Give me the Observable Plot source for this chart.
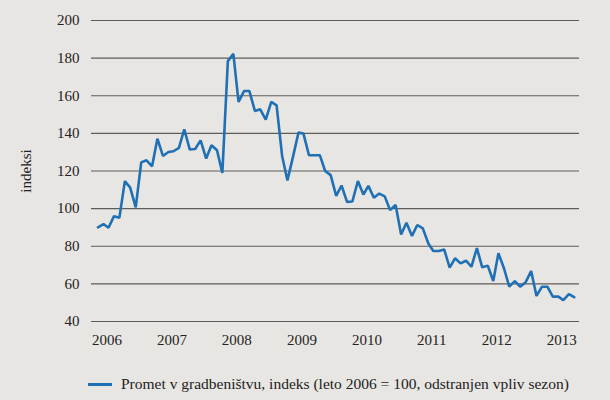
<!DOCTYPE html>
<html>
<head>
<meta charset="utf-8">
<script src="https://cdn.jsdelivr.net/npm/d3@7"></script>
<script src="https://cdn.jsdelivr.net/npm/@observablehq/plot@0.6"></script>
<style>
  html, body { margin: 0; padding: 0; background: #e8e6e2; }
  body { width: 610px; height: 400px; overflow: hidden; font-family: "Liberation Serif", "Times New Roman", serif; color: #222; }
  #legend { position: absolute; left: 88px; top: 375px; display: flex; align-items: center; font-size: 15.5px; font-family: "Liberation Serif", "Times New Roman", serif; color: #222; white-space: nowrap; }
  #legend .sw { width: 24px; height: 3px; background: #1f70b5; margin-right: 9px; }
</style>
</head>
<body>
<div id="chart"></div>
<div id="legend"><span class="sw"></span><span id="legendText"></span></div>
<script>
// Monthly index, Jan 2006 onwards (leto 2006 = 100, seasonally adjusted)
const startYear = 2006;
const values = [
  90.0, 91.8, 89.8, 96.0, 95.1, 114.6, 111.2, 100.7, 124.6, 125.7, 122.5, 137.2,
  128.0, 130.1, 130.5, 132.3, 142.2, 131.4, 131.7, 136.3, 126.6, 133.7, 131.0, 119.0,
  178.4, 182.3, 156.7, 162.5, 162.5, 151.9, 152.8, 147.3, 156.7, 154.9, 128.0, 115.0,
  127.5, 140.4, 139.9, 128.4, 128.4, 128.4, 120.0, 117.8, 106.8, 112.3, 103.6, 103.8,
  114.7, 107.5, 112.1, 105.8, 108.0, 106.5, 99.2, 102.0, 86.2, 92.5, 85.5, 91.3,
  89.5, 81.5, 77.5, 77.5, 78.3, 68.6, 73.6, 70.9, 72.3, 69.1, 79.0, 68.8,
  69.7, 61.5, 76.3, 68.3, 58.5, 61.5, 58.5, 60.9, 66.8, 53.6, 58.5, 58.5,
  53.2, 53.2, 51.4, 54.6, 52.9
];
const yearTicks = [2006, 2007, 2008, 2009, 2010, 2011, 2012, 2013];
const yTicks = [40, 60, 80, 100, 120, 140, 160, 180, 200];
const seriesLabel = "Promet v gradbeništvu, indeks (leto 2006 = 100, odstranjen vpliv sezon)";
const yLabel = "indeksi";

const data = values.map((v, i) => ({ date: new Date(Date.UTC(startYear, i, 1)), value: v }));
const xTickDates = yearTicks.map(y => new Date(Date.UTC(y, 0, 1)));

const chart = Plot.plot({
  width: 610,
  height: 355,
  marginLeft: 91,
  marginRight: 31,
  marginTop: 20,
  marginBottom: 34,
  insetLeft: 6.5,
  insetRight: 5.3,
  style: { background: "transparent", fontFamily: "\"Liberation Serif\", \"Times New Roman\", serif", fontSize: "15px", color: "#222" },
  x: { type: "utc", domain: [data[0].date, data[data.length - 1].date] },
  y: { domain: [40, 200] },
  marks: [
    Plot.ruleY(yTicks, { stroke: "#5e5c58", strokeWidth: 1.2 }),
    Plot.axisX(xTickDates, { tickSize: 0, tickPadding: 13, tickFormat: d3.utcFormat("%Y"), dx: 9, label: null, fontSize: 15 }),
    Plot.axisY(yTicks, { tickSize: 0, tickPadding: 12, label: yLabel, labelAnchor: "center", labelArrow: "none", labelOffset: 71, fontSize: 15 }),
    Plot.line(data, { x: "date", y: "value", stroke: "#1f70b5", strokeWidth: 2.6, strokeLinejoin: "miter" })
  ]
});
document.getElementById("chart").appendChild(chart);
document.getElementById("legendText").textContent = seriesLabel;
</script>
</body>
</html>
